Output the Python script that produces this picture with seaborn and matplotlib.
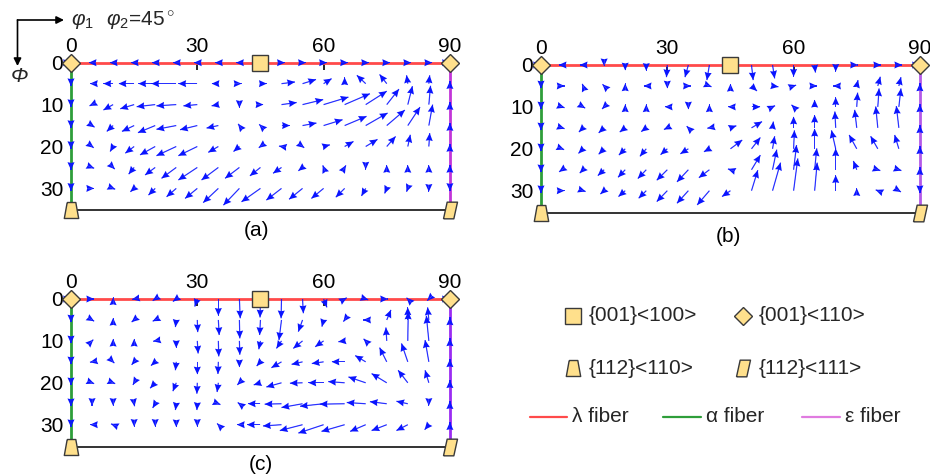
import numpy as np
import matplotlib
matplotlib.use("Agg")
import matplotlib.pyplot as plt
import seaborn as sns

# grid of the ODF section (phi2 = 45 deg)
PHI1 = [0, 5, 10, 15, 20, 25, 30, 35, 40, 45, 50, 55, 60, 65, 70, 75, 80, 85, 90]
PHI = [0, 5, 10, 15, 20, 25, 30]
PHI_112 = 35.26

# rotation field (d phi1, d Phi) per grid point, rows = Phi, cols = phi1
U_A = [
    [0, -0.8, -0.8, -0.8, -0.8, -0.8, -0.8, -0.8, -0.8, 0, 0.8, 0.8, 0.8, 0.8, 0.8, 0.8, 0.8, 0.8, 0],
    [0, -0.5, -2.3, -3.7, -4.0, -5.9, -4.5, -1.6, 0.5, 1.5, 3.2, 3.2, 1.9, 0, -2.1, -1.7, -0.3, 0.2, 0],
    [0, -0.6, -2.3, -3.3, -4.4, -4.7, -3.3, -1.6, 0, 0.7, 3.6, 4.9, 5.9, 6.0, 5.0, 2.9, 1.1, 0.4, 0],
    [0, 0.6, -1.5, -2.9, -4.1, -4.7, -4.1, -2.8, -0.3, -0.3, 2.0, 3.3, 4.5, 5.2, 5.2, 4.3, 2.9, 0.9, 0],
    [0, 0.4, -0.7, -2.1, -3.6, -4.7, -4.5, -2.4, -1.4, -0.4, -0.6, 0.4, 1.5, 2.1, 2.8, 2.1, 0.6, 0.2, 0],
    [0, 0.5, 0.4, -1.3, -2.4, -3.5, -4.5, -4.0, -3.4, -2.5, -2.0, -1.0, -0.2, 0.3, 0, 0, 0, 0, 0],
    [0, 0.5, 0.5, -0.9, -1.6, -2.3, -2.9, -3.6, -3.8, -4.5, -3.6, -3.2, -2.9, -2.1, -1.0, -0.5, -0.3, 0, 0],
]
V_A = [
    [0, 0, 0, 0, 0, 0, 0, 0, 0, 0, 0, 0, 0, 0, 0, 0, 0, 0, 0],
    [0.6, 0, 0, 0, 0, 0, 0, 0, 0, 0, -0.4, -1.0, -1.2, -1.5, -2.0, -2.2, -2.0, -2.0, -0.6],
    [0.6, 0.3, 1.3, 1.0, 0.5, 0.3, 0.3, 0.3, 0.8, 0, -0.5, -1.2, -1.8, -2.6, -3.2, -3.7, -4.4, -4.5, -0.6],
    [0.6, 0.4, 1.4, 1.4, 1.7, 0.9, 1.0, 0.6, -0.4, -0.3, 0, -0.6, -1.4, -2.2, -3.0, -3.7, -4.4, -5.0, -0.6],
    [0.6, 0.3, 1.2, 1.6, 2.0, 2.2, 2.2, 1.4, 1.2, 0.3, -0.1, 0.3, -0.4, -1.2, -1.7, -2.4, -2.8, -3.2, -0.6],
    [0.6, 0.2, 0.4, 1.6, 1.8, 2.6, 3.0, 3.0, 2.6, 2.0, 1.4, 0.8, -0.5, -0.5, 0.5, -0.6, -0.6, -0.6, -0.6],
    [0.6, 0, 0.2, 0.8, 1.6, 2.0, 2.4, 3.4, 4.0, 3.2, 2.8, 2.6, 2.4, 2.1, 1.8, 1.2, 0.8, 0.8, 0.6],
]

U_B = [
    [0, -0.8, -0.8, 0, 0, 0, -0.2, -0.8, -0.6, 0, 0.4, 0.5, 0, 0.2, 0, 0.3, 0.8, 0.8, 0],
    [0, 0.6, -0.2, -0.4, 0, -0.6, 0, 0.6, 0.5, 0, 1.3, 1.4, 0.6, 0.6, -0.6, 0.3, 0.6, 0.5, 0],
    [0, 0.6, 0.5, -0.5, 0, 0, -0.6, 0, 0, -0.6, 2.1, 0.6, -0.5, 0, 0, 0.2, 0.3, 0.5, 0],
    [0, 0.6, -1.0, -1.3, -1.3, -1.2, -0.8, -0.4, -0.5, 1.4, 2.5, 0.2, 0, 0, -0.2, -0.5, -0.5, -0.6, 0],
    [0, 0.5, -1.1, -1.3, -1.5, -1.5, -1.6, -1.9, -1.3, 2.8, 2.1, 0.5, 0.2, 0, -1.0, -1.8, -1.7, -1.0, 0],
    [0, -0.7, -0.8, -1.5, -1.7, -2.0, -2.5, -2.7, -2.5, -0.6, 2.1, 1.0, 0.7, 0.5, 0, -0.8, 0.6, 0.6, 0],
    [0, 0.6, 0.6, -0.9, -1.6, -1.8, -2.5, -2.7, -2.9, -2.0, 1.5, 1.9, 1.0, 0.6, 0, 0, -0.5, 0.5, 0],
]
V_B = [
    [0, 0, 0, 0.3, 1.3, 1.4, 2.9, 2.9, 3.6, 0, 3.6, 3.2, 2.8, 1.8, 1.6, 0, 0, 0, 0],
    [0.6, 0, -0.5, -0.4, -0.6, 0, 0.6, 0, 0.2, -0.5, 1.2, 0.2, -0.2, 0, 0, -1.4, -2.2, -2.1, -0.6],
    [0.6, 0.2, 0.3, 0.5, -0.6, -0.6, 0, 0.6, -0.6, 0, 0, -0.3, -0.5, -1.7, -2.3, -3.4, -4.4, -4.4, -0.6],
    [0.6, 0.2, 1.0, 1.2, 1.0, 0.9, 0.4, -0.4, 0.1, -0.5, -1.5, -1.5, -2.7, -3.1, -3.9, -4.3, -5.1, -5.2, -0.6],
    [0.6, 0.2, 1.1, 1.3, 1.5, 1.8, 1.4, 1.2, 0.7, -2.1, -2.7, -3.0, -4.4, -4.8, -4.4, -3.3, -3.0, -3.3, -0.6],
    [0.6, 0.5, 0.8, 1.4, 1.8, 2.1, 2.5, 2.9, 1.9, -0.2, -3.5, -4.8, -5.9, -5.1, -5.1, -2.1, 0.2, 0.2, -0.6],
    [0.6, 0, 0.2, 0.8, 1.4, 1.8, 2.6, 3.0, 3.4, 1.4, -4.9, -6.7, -7.7, -6.7, -3.7, -0.6, -0.2, 0.3, 0.6],
]

U_C = [
    [0, 0.5, 0, -0.5, -0.6, -0.8, -0.6, 0, 0.2, -0.1, -0.1, 0.2, 0.8, 0.5, 0.6, 0.3, -0.3, -0.4, 0],
    [0, 0.5, 0, -0.6, -0.6, -0.2, 0.1, 0.2, 0.1, -0.2, -0.6, -1.0, -0.4, -0.3, -0.6, 1.0, 0, -0.3, 0],
    [0, 0.3, 0, 0, -0.5, 0, 0.2, 0.1, 0.1, -0.4, -1.2, -2.2, -2.0, -1.5, -0.5, -0.2, 0.1, -0.6, 0],
    [0, -0.5, 0.3, -0.6, -1.0, -0.2, 0, -0.1, 0, -0.9, -2.4, -2.6, -2.8, -3.1, -2.5, -1.7, -1.5, -0.9, 0],
    [0, 0.5, 0.5, -0.3, -1.2, -0.8, -0.1, -0.3, -0.5, -1.6, -3.6, -3.0, -3.6, -3.9, -4.1, -3.6, -2.3, -0.9, 0],
    [0, 0, 0, 0.1, -0.6, -0.2, -0.1, 0.5, -0.4, -3.0, -4.0, -5.0, -5.6, -5.9, -4.5, -4.0, -2.7, 0, 0],
    [0, -0.5, -0.5, 0, 0, 0, 0, -0.3, -0.6, -3.2, -4.4, -5.4, -6.0, -5.5, -3.7, -3.6, -2.7, -1.0, 0],
]
V_C = [
    [0, 0, -0.4, 0.1, 0.4, 0.6, 1.8, 4.0, 4.6, 4.4, 4.6, 3.4, 2.0, -0.3, 0.2, 0, -0.3, 0.4, 0],
    [0.6, 0.3, -0.5, 0.5, 0.3, 1.7, 2.9, 3.6, 4.4, 3.6, 4.8, 2.8, 1.6, 0.4, 0, -2.4, -3.0, -3.0, -0.6],
    [0.6, -0.3, -0.5, -0.5, 0.1, 1.7, 3.0, 3.7, 3.3, 2.0, 1.8, 1.8, 1.4, 0.2, -0.5, -3.2, -7.0, -6.0, -0.6],
    [0.6, 0.1, 0.3, 0.7, 0.9, 2.0, 3.0, 2.9, 1.3, 1.0, 1.4, 0.6, 0.4, 0, -1.5, -3.4, -4.4, -5.2, -0.6],
    [0.6, 0.2, 0.2, 0.5, 1.3, 2.0, 2.6, 2.2, 0.5, 0.5, 1.0, 0.1, 0, -0.3, -1.4, -2.2, -3.0, -3.0, -0.6],
    [0.6, 0.5, 0.5, 0.6, 1.0, 1.5, 1.5, 0.2, -0.3, 0, 0.1, 0.9, 0.6, 0.1, -0.3, -0.5, -0.6, 0.5, -0.6],
    [0.6, 0, -0.2, 0.5, 0.5, 0.6, 0.5, -0.3, 0, 0, 0.3, 1.4, 2.0, 1.6, 1.6, 1.4, 1.4, 1.2, -0.6],
]

# ideal orientations (phi1, Phi)
CUBE = (45, 0)
ROT_CUBE = [(0, 0), (90, 0)]
CU_112_110 = (0, PHI_112)
CU_112_111 = (90, PHI_112)

X_TICKS = [0, 30, 60, 90]
Y_TICKS = [0, 10, 20, 30]
PANEL_LABELS = ["(a)", "(b)", "(c)"]
ORIENT_LABELS = ["{001}<100>", "{001}<110>", "{112}<110>", "{112}<111>"]
FIBER_LABELS = ["λ fiber", "α fiber", "ε fiber"]

FILL = "#ffe08c"
EDGE = "#3a3a3a"
RED = "#ff4a4a"
GREEN = "#2e9e3a"
EPS_COLORS = ["#c235d8", "#b45ae8", "#9b2cf2"]
EPS_LEGEND = "#e07be0"
ARROW = "#0a14ff"

TRAP = [(-0.27, 0.5), (0.27, 0.5), (0.45, -0.5), (-0.45, -0.5), (-0.27, 0.5)]
PARA = [(-0.42, -0.5), (0.2, -0.5), (0.42, 0.5), (-0.2, 0.5), (-0.42, -0.5)]

sns.set_theme(style="white")
plt.rcParams["font.family"] = ["Liberation Sans", "DejaVu Sans"]
plt.rcParams["mathtext.fontset"] = "custom"
plt.rcParams["mathtext.rm"] = "Liberation Sans"
plt.rcParams["mathtext.it"] = "Liberation Sans:italic"

W, H = 930, 476
fig = plt.figure(figsize=(W / 100, H / 100), dpi=100, facecolor="white")

# overlay in pixel coordinates for legend and annotations
ov = fig.add_axes([0, 0, 1, 1])
ov.set_xlim(0, W)
ov.set_ylim(H, 0)
ov.axis("off")

FS = 15


def draw_panel(rect, U, V, eps_color, label, label_xy):
    ax = fig.add_axes(rect)
    ax.set_xlim(0, 90)
    ax.set_ylim(PHI_112, 0)
    for s in ax.spines.values():
        s.set_visible(False)
    ax.set_facecolor("none")

    ax.plot([0, 90], [0, 0], color=RED, lw=2, zorder=1, clip_on=False)
    ax.plot([0, 0], [0, PHI_112], color=GREEN, lw=2, zorder=1, clip_on=False)
    ax.plot([90, 90], [0, PHI_112], color=eps_color, lw=2, zorder=1, clip_on=False)
    ax.plot([0, 90], [PHI_112, PHI_112], color="#333333", lw=1.4, zorder=1, clip_on=False)

    X, Y = np.meshgrid(PHI1, PHI)
    U = np.array(U)
    V = np.array(V)
    common = dict(angles="xy", scale_units="xy", scale=1, units="dots",
                  minshaft=0, minlength=0, color=ARROW, zorder=3)
    # shafts
    qs = ax.quiver(X, Y, U, V, width=1.2, headwidth=1, headlength=0,
                   headaxislength=0, alpha=0.85, **common)
    # heads (near-zero shaft so short vectors still show a full head)
    qh = ax.quiver(X, Y, U, V, width=0.15, headwidth=47, headlength=52,
                   headaxislength=47, **common)
    qs.set_clip_on(False)
    qh.set_clip_on(False)

    mk = dict(markerfacecolor=FILL, markeredgecolor=EDGE, markeredgewidth=1,
              linestyle="none", zorder=5, clip_on=False)
    ax.plot([CUBE[0]], [CUBE[1]], marker="s", markersize=11, **mk)
    ax.plot([p[0] for p in ROT_CUBE], [p[1] for p in ROT_CUBE], marker="D",
            markersize=9.5, **mk)
    ax.plot([CU_112_110[0]], [CU_112_110[1]], marker=TRAP, markersize=11.5, **mk)
    ax.plot([CU_112_111[0]], [CU_112_111[1]], marker=PARA, markersize=12, **mk)

    ax.xaxis.tick_top()
    ax.set_xticks(X_TICKS)
    ax.set_yticks(Y_TICKS)
    ax.tick_params(axis="x", direction="in", length=5, width=1.2, color="black",
                   labelsize=FS, pad=5, labelcolor="black")
    ax.tick_params(axis="y", direction="inout", length=7, width=1.2, color="black",
                   labelsize=FS, pad=2, labelcolor="black")
    ax.grid(False)
    ov.text(label_xy[0], label_xy[1], label, fontsize=FS, ha="center",
            va="center", color="black")
    return ax


def rect_px(x0, y0):
    # x0, y0: pixel position of (phi1=0, Phi=0)
    w = 90 * 4.21
    h = PHI_112 * 4.19
    return [x0 / W, 1 - (y0 + h) / H, w / W, h / H]


draw_panel(rect_px(71, 62.7), U_A, V_A, EPS_COLORS[0], PANEL_LABELS[0], (256, 231))
draw_panel(rect_px(541, 65), U_B, V_B, EPS_COLORS[1], PANEL_LABELS[1], (728, 236))
draw_panel(rect_px(71, 299), U_C, V_C, EPS_COLORS[2], PANEL_LABELS[2], (261, 465))

# axis annotation at top left
arr = dict(arrowstyle="-|>", color="black", lw=1.2, mutation_scale=11,
           shrinkA=0, shrinkB=0)
ov.annotate("", xy=(64, 20), xytext=(17.5, 20), arrowprops=arr)
ov.annotate("", xy=(17.5, 66), xytext=(17.5, 20), arrowprops=arr)
ov.text(71, 21, r"$\varphi_1$", fontsize=FS, va="center", ha="left")
ov.text(106, 21, r"$\varphi_2$=45$^\circ$", fontsize=FS, va="center", ha="left")
ov.text(19, 77, "Φ", fontsize=FS, style="italic", va="center", ha="center")

# legend
mk = dict(markerfacecolor=FILL, markeredgecolor=EDGE, markeredgewidth=1,
          linestyle="none")
leg_markers = ["s", "D", TRAP, PARA]
leg_sizes = [11, 9.5, 11.5, 12]
leg_pos = [(573, 315.5), (743, 315.5), (573, 368), (743, 368)]
for m, s, (x, y), lab in zip(leg_markers, leg_sizes, leg_pos, ORIENT_LABELS):
    ov.plot([x], [y], marker=m, markersize=s, **mk)
    ov.text(x + 16, y, lab, fontsize=FS, va="center", ha="left")

fiber_cols = [RED, GREEN, EPS_LEGEND]
fiber_x = [(530, 567), (663, 701), (802, 840)]
for (x1, x2), c, lab in zip(fiber_x, fiber_cols, FIBER_LABELS):
    ov.plot([x1, x2], [417, 417], color=c, lw=1.6)
    ov.text(x2 + 5, 416, lab, fontsize=FS, va="center", ha="left")

fig.savefig("out.png", dpi=100, facecolor="white")
